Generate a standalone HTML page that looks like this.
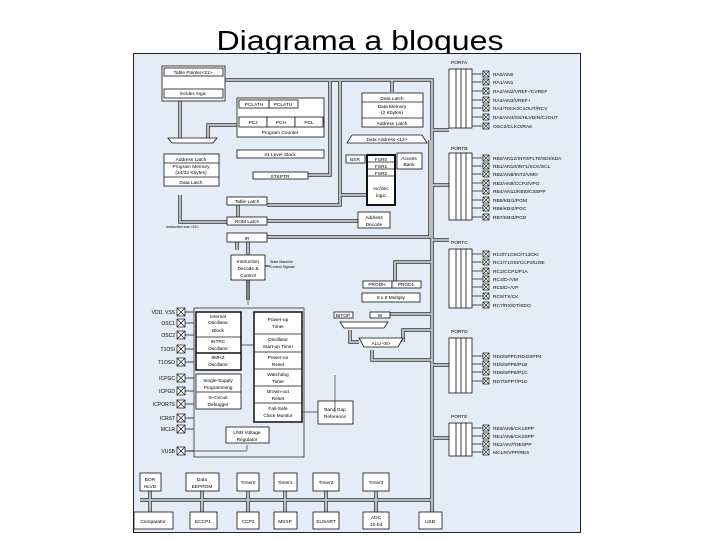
<!DOCTYPE html>
<html><head><meta charset="utf-8"><style>
html,body{margin:0;padding:0;background:#fff;width:720px;height:540px;overflow:hidden}
svg{display:block}
text{font-family:"Liberation Sans",sans-serif;fill:#000}
</style></head><body>
<svg width="720" height="540" viewBox="0 0 720 540" xmlns="http://www.w3.org/2000/svg">
<defs>
<g id="x"><rect x="177" y="-4" width="8" height="8" fill="#fff" stroke="#111" stroke-width="0.7"/><path d="M177 -4 L185 4 M185 -4 L177 4 M185 0 H194" fill="none" stroke="#111" stroke-width="0.7"/></g>
<g id="p"><path d="M472 0 H483" stroke="#111" stroke-width="0.7"/><rect x="483" y="-3" width="6" height="6" fill="#fff" stroke="#111" stroke-width="0.7"/><path d="M483 -3 L489 3 M489 -3 L483 3" stroke="#111" stroke-width="0.6"/></g>
</defs>
<text x="360" y="50" font-size="28" text-anchor="middle" textLength="287" lengthAdjust="spacingAndGlyphs">Diagrama a bloques</text>
<rect x="133.5" y="53.5" width="447" height="479" fill="#e4edf7" stroke="#222" stroke-width="1"/>

<g fill="none" stroke="#333" stroke-width="3.5">
<path d="M225 80 H432 V505 M330 80 V175 H308 M340 80 V205 H267 M430 140 V237 H267 M180 101 V138 M208 138 V125 H237 M237 242 V250 M180 195 V222 H227 M238 201 V222 M267 221 H358 M395 285 V262 H432 M359 342 H350 V330 M403 342 V330 H432 M372 350 V360 H432 M390 314 H432 M340 195 H367 M432 240 H449 M432 365 H449 M432 438 H449 M432 130 H449 M432 185 H449 M140 500 H432 M150 490 V512 M202 490 V512 M248 490 V512 M285 490 V512 M326 490 V512 M376 490 V512 M432 505 V512 M248 242 V300 M392 92 V80"/>
</g>
<g fill="none" stroke="#c9ccd0" stroke-width="1.8">
<path d="M225 80 H432 V505 M330 80 V175 H308 M340 80 V205 H267 M430 140 V237 H267 M180 101 V138 M208 138 V125 H237 M237 242 V250 M180 195 V222 H227 M238 201 V222 M267 221 H358 M395 285 V262 H432 M359 342 H350 V330 M403 342 V330 H432 M372 350 V360 H432 M390 314 H432 M340 195 H367 M432 240 H449 M432 365 H449 M432 438 H449 M432 130 H449 M432 185 H449 M140 500 H432 M150 490 V512 M202 490 V512 M248 490 V512 M285 490 V512 M326 490 V512 M376 490 V512 M432 505 V512 M248 242 V300 M392 92 V80"/>
</g>

<g fill="#fff" stroke="#111" stroke-width="0.8">
<rect x="162" y="66" width="63" height="35"/>
<rect x="164" y="68" width="59" height="8"/>
<rect x="164" y="89" width="59" height="9"/>
<rect x="237" y="98" width="87" height="39"/>
<rect x="239" y="100" width="30" height="8"/><rect x="269" y="100" width="29" height="8"/>
<rect x="239" y="117" width="28" height="10"/><rect x="267" y="117" width="28" height="10"/><rect x="295" y="117" width="28" height="10"/>
<rect x="237" y="150" width="87" height="8"/>
<rect x="253" y="172" width="55" height="7"/>
<polygon points="168,138 217,138 213,143 172,143"/>
<rect x="164" y="154" width="55" height="32"/>
<line x1="164" y1="163" x2="219" y2="163"/><line x1="164" y1="177" x2="219" y2="177"/>
<rect x="227" y="197" width="40" height="8"/>
<rect x="227" y="217" width="40" height="8"/>
<rect x="227" y="233" width="40" height="9"/>
<rect x="231" y="255" width="34" height="25"/>
<rect x="362" y="93" width="61" height="34"/>
<line x1="362" y1="102" x2="423" y2="102"/><line x1="362" y1="118" x2="423" y2="118"/>
<polygon points="352,135 422,135 427,143 347,143"/>
<rect x="346" y="155" width="19" height="8"/>
<rect x="367" y="155" width="28" height="50" stroke-width="2"/>
<line x1="367" y1="162" x2="395" y2="162"/><line x1="367" y1="169" x2="395" y2="169"/><line x1="367" y1="176" x2="395" y2="176"/>
<rect x="397" y="153" width="25" height="16"/>
<rect x="358" y="212" width="32" height="16"/>
<rect x="363" y="281" width="29" height="7"/><rect x="392" y="281" width="29" height="7"/>
<rect x="362" y="293" width="58" height="9"/>
<rect x="334" y="312" width="19" height="6"/>
<rect x="370" y="312" width="20" height="6"/>
<polygon points="340,322 388,322 384,328 344,328"/>
<polygon points="359,338 403,338 398,347 364,347"/>
</g>

<g fill="none" stroke="#333" stroke-width="0.8">
<rect x="194" y="308" width="110" height="149"/>
</g>
<g fill="#fff" stroke="#111" stroke-width="0.8">
<rect x="196" y="312" width="45" height="58" stroke-width="1.5"/>
<line x1="196" y1="337" x2="241" y2="337"/><line x1="196" y1="353" x2="241" y2="353" stroke-width="1.5"/>
<rect x="196" y="374" width="45" height="35"/><line x1="196" y1="392" x2="241" y2="392"/>
<rect x="254" y="312" width="48" height="110" stroke-width="1.5"/>
<line x1="254" y1="334" x2="302" y2="334"/><line x1="254" y1="352" x2="302" y2="352"/><line x1="254" y1="369" x2="302" y2="369"/><line x1="254" y1="386" x2="302" y2="386"/><line x1="254" y1="403" x2="302" y2="403"/>
<rect x="226" y="427" width="43" height="16"/>
<rect x="318" y="401" width="35" height="23"/>
<rect x="140" y="473" width="21" height="18"/><rect x="186" y="473" width="33" height="18"/>
<rect x="237" y="473" width="22" height="18"/><rect x="274" y="473" width="23" height="18"/>
<rect x="313" y="473" width="26" height="18"/><rect x="363" y="473" width="26" height="18"/>
<rect x="134" y="512" width="39" height="17"/><rect x="190" y="512" width="27" height="17"/>
<rect x="237" y="512" width="22" height="17"/><rect x="274" y="512" width="23" height="17"/>
<rect x="313" y="512" width="26" height="17"/><rect x="363" y="512" width="26" height="17"/>
<rect x="419" y="512" width="23" height="17"/>
</g>
<g fill="none" stroke="#333" stroke-width="0.7">
<path d="M241 345 H254 M318 412 H302 M335 412 V375 M247 450 V445 M186 451 H247 M248 280 V305"/>
</g>

<g font-size="4.8" text-anchor="middle">
<text x="193" y="74">Table Pointer&lt;21&gt;</text><text x="193" y="95">inc/dec logic</text>
<text x="254" y="106">PCLATH</text><text x="283" y="106">PCLATU</text>
<text x="253" y="124">PCJ</text><text x="281" y="124">PCH</text><text x="309" y="124">PCL</text>
<text x="280" y="134">Program Counter</text>
<text x="280" y="156">31 Level Stack</text><text x="280" y="178">STKPTR</text>
<text x="191" y="161">Address Latch</text><text x="191" y="168">Program Memory</text><text x="191" y="174">(24/32 Kbytes)</text><text x="191" y="184">Data Latch</text>
<text x="247" y="203">Table Latch</text><text x="247" y="223">ROM Latch</text><text x="247" y="240">IR</text>
<text x="248" y="263">Instruction</text><text x="248" y="270">Decode &amp;</text><text x="248" y="277">Control</text>
<text x="392" y="100">Data Latch</text><text x="392" y="108">Data Memory</text><text x="392" y="114">(2 Kbytes)</text><text x="392" y="125">Address Latch</text>
<text x="387" y="141">Data Address &lt;12&gt;</text>
<text x="355" y="161">BSR</text><text x="381" y="161">FSR0</text><text x="381" y="168">FSR1</text><text x="381" y="175">FSR2</text>
<text x="381" y="190">inc/dec</text><text x="381" y="197">logic</text>
<text x="409" y="160">Access</text><text x="409" y="166">Bank</text>
<text x="374" y="219">Address</text><text x="374" y="226">Decode</text>
<text x="377" y="286">PRODH</text><text x="406" y="286">PRODL</text><text x="391" y="299">8 x 8 Multiply</text>
<text x="343" y="317">BITOP</text><text x="380" y="317">W</text><text x="381" y="345">ALU &lt;8&gt;</text>
<text x="218" y="318">Internal</text><text x="218" y="324">Oscillator</text><text x="218" y="332">Block</text>
<text x="218" y="343">INTRC</text><text x="218" y="350">Oscillator</text>
<text x="218" y="359">8MHZ</text><text x="218" y="366">Oscillator</text>
<text x="218" y="382">Single-Supply</text><text x="218" y="389">Programming</text>
<text x="218" y="399">In-Circuit</text><text x="218" y="406">Debugger</text>
<text x="278" y="321">Power-up</text><text x="278" y="328">Timer</text>
<text x="278" y="341">Oscillator</text><text x="278" y="348">Start-up Timer</text>
<text x="278" y="359">Power-on</text><text x="278" y="366">Reset</text>
<text x="278" y="376">Watchdog</text><text x="278" y="383">Timer</text>
<text x="278" y="393">Brown-out</text><text x="278" y="400">Reset</text>
<text x="278" y="410">Fail-Safe</text><text x="278" y="417">Clock Monitor</text>
<text x="247" y="434">USB Voltage</text><text x="247" y="441">Regulator</text>
<text x="335" y="411">Band Gap</text><text x="335" y="418">Reference</text>
<text x="150" y="481">BOR</text><text x="150" y="488">HLVD</text>
<text x="202" y="481">Data</text><text x="202" y="488">EEPROM</text>
<text x="248" y="484">Timer0</text><text x="285" y="484">Timer1</text><text x="326" y="484">Timer2</text><text x="376" y="484">Timer3</text>
<text x="153" y="523">Comparator</text><text x="203" y="523">ECCP1</text><text x="248" y="523">CCP2</text><text x="285" y="523">MSSP</text><text x="326" y="523">EUSART</text>
<text x="376" y="519">ADC</text><text x="376" y="526">10-bit</text><text x="430" y="523">USB</text>
</g>
<g font-size="3.6"><text x="270" y="263">State Machine</text><text x="270" y="268">Control Signals</text><text x="166" y="228">Instruction bus &lt;16&gt;</text></g>
<path d="M265 266 H270" stroke="#111" stroke-width="1"/>

<g font-size="5" text-anchor="end">
<text x="175" y="314">VDD, VSS</text><text x="175" y="325">OSC1</text><text x="175" y="337">OSC2</text><text x="175" y="351">T1OSI</text><text x="175" y="364">T1OSO</text><text x="175" y="380">ICPGC</text><text x="175" y="393">ICPGD</text><text x="175" y="406">ICPORTS</text><text x="175" y="420">ICRST</text><text x="175" y="431">MCLR</text><text x="175" y="453">VUSB</text>
</g>
<use href="#x" y="312"/><use href="#x" y="323"/><use href="#x" y="335"/><use href="#x" y="349"/><use href="#x" y="362"/><use href="#x" y="378"/><use href="#x" y="391"/><use href="#x" y="404"/><use href="#x" y="418"/><use href="#x" y="429"/><use href="#x" y="451"/>

<g fill="#fff" stroke="#111" stroke-width="0.8">
<rect x="449" y="69" width="23" height="59"/><rect x="449" y="153" width="23" height="67"/><rect x="449" y="249" width="23" height="59"/><rect x="449" y="338" width="23" height="55"/><rect x="449" y="423" width="23" height="33"/>
<path d="M456 69 V128 M461 69 V128 M466 69 V128 M456 153 V220 M461 153 V220 M466 153 V220 M456 249 V308 M461 249 V308 M466 249 V308 M456 338 V393 M461 338 V393 M466 338 V393 M456 423 V456 M461 423 V456 M466 423 V456" fill="none"/>
</g>
<g font-size="4.8"><text x="451" y="64">PORTA</text><text x="451" y="150">PORTB</text><text x="451" y="244">PORTC</text><text x="451" y="333">PORTD</text><text x="451" y="418">PORTE</text></g>
<use href="#p" y="74"/><use href="#p" y="82"/><use href="#p" y="91"/><use href="#p" y="100"/><use href="#p" y="108"/><use href="#p" y="117"/><use href="#p" y="126"/>
<use href="#p" y="158"/><use href="#p" y="166"/><use href="#p" y="174"/><use href="#p" y="183"/><use href="#p" y="191"/><use href="#p" y="200"/><use href="#p" y="208"/><use href="#p" y="217"/>
<use href="#p" y="254"/><use href="#p" y="262"/><use href="#p" y="271"/><use href="#p" y="279"/><use href="#p" y="287"/><use href="#p" y="296"/><use href="#p" y="305"/>
<use href="#p" y="356"/><use href="#p" y="364"/><use href="#p" y="372"/><use href="#p" y="381"/>
<use href="#p" y="428"/><use href="#p" y="436"/><use href="#p" y="444"/><use href="#p" y="452"/>
<g font-size="4.9">
<text x="493" y="76">RA0/AN0</text><text x="493" y="84">RA1/AN1</text><text x="493" y="93">RA2/AN2/VREF-/CVREF</text><text x="493" y="102">RA3/AN3/VREF+</text><text x="493" y="110">RA4/T0CKI/C1OUT/RCV</text><text x="493" y="119">RA5/AN4/SS/HLVDIN/C2OUT</text><text x="493" y="128">OSC2/CLKO/RA6</text>
<text x="493" y="160">RB0/AN12/INT0/FLT0/SDI/SDA</text><text x="493" y="168">RB1/AN10/INT1/SCK/SCL</text><text x="493" y="176">RB2/AN8/INT2/VMO</text><text x="493" y="185">RB3/AN9/CCP2/VPO</text><text x="493" y="193">RB4/AN11/KBI0/CSSPP</text><text x="493" y="202">RB5/KBI1/PGM</text><text x="493" y="210">RB6/KBI2/PGC</text><text x="493" y="219">RB7/KBI3/PGD</text>
<text x="493" y="256">RC0/T1OSO/T13CKI</text><text x="493" y="264">RC1/T1OSI/CCP2/UOE</text><text x="493" y="273">RC2/CCP1/P1A</text><text x="493" y="281">RC4/D-/VM</text><text x="493" y="289">RC5/D+/VP</text><text x="493" y="298">RC6/TX/CK</text><text x="493" y="307">RC7/RX/DT/SDO</text>
<text x="493" y="358">RD0/SPP0:RD4/SPP4</text><text x="493" y="366">RD5/SPP5/P1B</text><text x="493" y="374">RD6/SPP6/P1C</text><text x="493" y="383">RD7/SPP7/P1D</text>
<text x="493" y="430">RE0/AN5/CK1SPP</text><text x="493" y="438">RE1/AN6/CK2SPP</text><text x="493" y="446">RE2/AN7/OESPP</text><text x="493" y="454">MCLR/VPP/RE3</text>
</g>
</svg>
</body></html>
